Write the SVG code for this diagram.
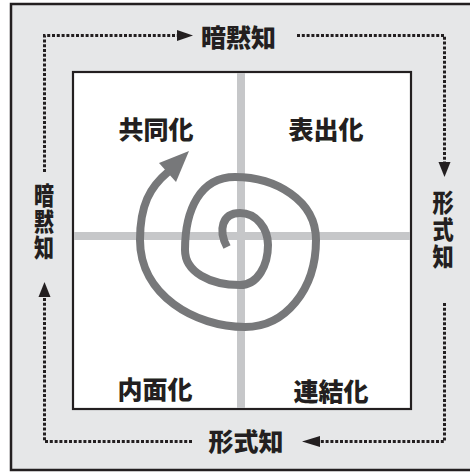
<svg xmlns="http://www.w3.org/2000/svg" width="470" height="472" viewBox="0 0 470 472">
<style>
.lbl{font-family:"Noto Sans CJK JP","Noto Sans CJK SC",sans-serif;font-weight:900;fill:#231f20;text-anchor:middle}
.vl{font-family:"Noto Sans CJK JP","Noto Sans CJK SC",sans-serif;font-weight:900;fill:#231f20;text-anchor:middle;writing-mode:vertical-rl}
.dot{fill:none;stroke:#231f20;stroke-width:3;stroke-dasharray:3 1.8}
.ah{fill:#231f20}
</style>
<rect x="0" y="0" width="470" height="472" fill="#ffffff"/>
<g id="frame">
<rect x="11" y="4" width="470" height="466" fill="#e6e7e8" stroke="#231f20" stroke-width="2.5"/>
</g>
<g id="matrix">
<rect x="73" y="72" width="338" height="337" fill="#ffffff" stroke="#231f20" stroke-width="2.2"/>
<line x1="241" y1="73" x2="241" y2="408" stroke="#c6c7c9" stroke-width="8"/>
<line x1="74" y1="236" x2="410" y2="236" stroke="#c6c7c9" stroke-width="8"/>
</g>
<g id="spiral">
<path d="M 227 247 C 218 230, 222 213, 240 213 C 256 213, 268 228, 268 245 C 268 265, 258 285, 240 285 C 210 285, 185 272, 185 250 C 185 210, 200 177, 235 177 C 275 177, 316 200, 316 240 C 316 290, 285 327, 245 327 C 195 327, 140 295, 140 240 C 140 205, 150 187, 168 172" fill="none" stroke="#77787a" stroke-width="8"/>
<polygon points="189,151 159,163 176,182" fill="#77787a"/>
</g>
<g id="connectors">
<path class="dot" d="M 44.5 172 V 35.5 H 178"/>
<polygon class="ah" points="177,30 193,35.5 177,41"/>
<path class="dot" d="M 297 35.5 H 444.5 V 162"/>
<polygon class="ah" points="438.5,162 450.5,162 444.5,177"/>
<path class="dot" d="M 444.5 303 V 441.5 H 319"/>
<polygon class="ah" points="320,436 302,441.5 320,447"/>
<path class="dot" d="M 192 441.5 H 44.5 V 296"/>
<polygon class="ah" points="38.5,297 50.5,297 44.5,282"/>
</g>
<g id="q-kyodoka"><text class="lbl" x="156" y="139" font-size="25">共同化</text></g>
<g id="q-hyoshutsuka"><text class="lbl" x="326" y="139" font-size="25">表出化</text></g>
<g id="q-naimenka"><text class="lbl" x="155" y="399" font-size="25">内面化</text></g>
<g id="q-renketsuka"><text class="lbl" x="331" y="401" font-size="25">連結化</text></g>
<g id="top-label"><text class="lbl" x="238.5" y="47" font-size="25">暗黙知</text></g>
<g id="bottom-label"><text class="lbl" x="246" y="451" font-size="25">形式知</text></g>
<g id="left-label" transform="translate(44,222) scale(0.8,1)">
<text class="vl" x="0" y="0" font-size="25" letter-spacing="1">暗黙知</text>
</g>
<g id="right-label" transform="translate(443,230) scale(0.85,1)">
<text class="vl" x="0" y="0" font-size="25" letter-spacing="2">形式知</text>
</g>
</svg>
